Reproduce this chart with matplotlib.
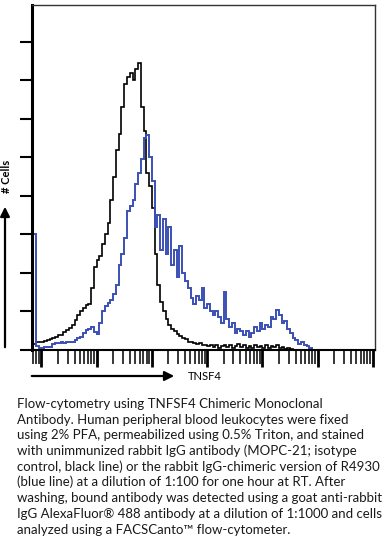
import numpy as np
import matplotlib.pyplot as plt
from matplotlib.ticker import LogLocator, NullFormatter

# Histogram bins: log10 of TNSF4 intensity, lower edge and bin width (decades)
LOG_START = -0.15
LOG_STEP = 0.05

# Isotype control (black line), # cells per bin
isotype = [0.15, 0.2, 0.2, 0.22, 0.24, 0.26, 0.28, 0.3, 0.34, 0.38,
           0.4, 0.46, 0.52, 0.58, 0.66, 0.78, 0.9, 1.0, 1.1, 1.17,
           1.2, 1.6, 2.15, 2.35, 2.45, 2.75, 3.0, 3.3, 3.9, 4.5,
           5.2, 5.6, 6.3, 6.9, 7.1, 7.2, 7.0, 7.3, 7.45, 6.3,
           5.7, 4.6, 4.25, 3.7, 2.5, 1.7, 1.25, 1.0, 0.8, 0.65,
           0.55, 0.5, 0.42, 0.36, 0.3, 0.28, 0.22, 0.2, 0.18, 0.15,
           0.17, 0.12, 0.14, 0.1, 0.13, 0.08, 0.12, 0.06, 0.1, 0.14,
           0.08, 0.12, 0.05, 0.1, 0.16, 0.08, 0.12, 0.06, 0.1, 0.04,
           0.12, 0.07, 0.1, 0.05, 0.14, 0.06, 0.1, 0.08, 0.12, 0.04,
           0.08, 0.03, 0.05, 0.02]

# R4930 rabbit IgG-chimeric (blue line), # cells per bin
r4930 = [3.0, 0.1, 0.06, 0.06, 0.08, 0.07, 0.08, 0.16, 0.18, 0.18,
         0.2, 0.18, 0.2, 0.2, 0.22, 0.26, 0.3, 0.34, 0.45, 0.52,
         0.55, 0.6, 0.48, 0.42, 0.7, 1.0, 1.15, 1.22, 1.3, 1.45,
         1.7, 2.2, 2.5, 2.9, 3.6, 3.75, 3.9, 4.3, 4.6, 4.95,
         5.5, 5.58, 5.0, 4.4, 3.2, 3.5, 2.6, 3.4, 2.5, 3.2,
         2.2, 2.6, 1.9, 2.7, 2.0, 1.8, 1.6, 1.35, 1.2, 1.4,
         1.3, 1.6, 1.1, 1.2, 1.0, 0.9, 1.0, 0.85, 0.7, 1.5,
         0.8, 0.6, 0.7, 0.45, 0.55, 0.5, 0.4, 0.5, 0.35, 0.45,
         0.6, 0.5, 0.7, 0.55, 0.65, 0.6, 0.85, 0.8, 1.05, 0.9,
         0.7, 0.75, 0.55, 0.45, 0.3, 0.25, 0.15, 0.22, 0.12, 0.1,
         0.05]

caption = [
    "Flow-cytometry using TNFSF4 Chimeric Monoclonal",
    "Antibody. Human peripheral blood leukocytes were fixed",
    "using 2% PFA, permeabilized using 0.5% Triton, and stained",
    "with unimmunized rabbit IgG antibody (MOPC-21; isotype",
    "control, black line) or the rabbit IgG-chimeric version of R4930",
    "(blue line) at a dilution of 1:100 for one hour at RT. After",
    "washing, bound antibody was detected using a goat anti-rabbit",
    "IgG AlexaFluor\u00ae 488 antibody at a dilution of 1:1000 and cells",
    "analyzed using a FACSCanto\u2122 flow-cytometer.",
]

W, H = 387, 540


def edges_for(counts):
    return 10 ** (LOG_START + LOG_STEP * np.arange(len(counts) + 1))


def fx(px):
    return px / W


def fy(py):
    return 1 - py / H


fig = plt.figure(figsize=(W / 100, H / 100), dpi=100)
ax = fig.add_axes([fx(32), fy(350), (375 - 32) / W, (350 - 5) / H])

ax.stairs(isotype, edges_for(isotype), color="black", lw=1.2)
ax.stairs(r4930, edges_for(r4930), color="#3b4fb5", lw=1.4)

ax.set_xscale("log")
ax.set_xlim(10 ** -0.17, 10 ** 6.04)
ax.set_ylim(0, 8.96)

ax.xaxis.set_major_locator(LogLocator(base=10, numticks=20))
ax.xaxis.set_minor_locator(LogLocator(base=10, subs=np.arange(2, 10), numticks=20))
ax.xaxis.set_major_formatter(NullFormatter())
ax.xaxis.set_minor_formatter(NullFormatter())
ax.set_yticks(range(9))
ax.set_yticklabels([])

ax.tick_params(axis="x", which="major", direction="out", length=12, width=2, color="black")
ax.tick_params(axis="x", which="minor", direction="out", length=10, width=1.1, color="black")
ax.tick_params(axis="y", which="major", direction="out", length=9, width=1.5, color="black")

ax.spines["left"].set_linewidth(2.2)
ax.spines["bottom"].set_linewidth(1.5)
for s in ("top", "right"):
    ax.spines[s].set_linewidth(1.0)
    ax.spines[s].set_color("#333333")

# axis arrows and labels
ax.annotate("", xy=(fx(5), fy(204)), xytext=(fx(5), fy(350)),
            xycoords="figure fraction", textcoords="figure fraction",
            arrowprops=dict(arrowstyle="-|>", lw=1.6, color="black", mutation_scale=14))
ax.annotate("", xy=(fx(177), fy(376)), xytext=(fx(29), fy(376)),
            xycoords="figure fraction", textcoords="figure fraction",
            arrowprops=dict(arrowstyle="-|>", lw=1.6, color="black", mutation_scale=14))

fig.text(fx(6), fy(176), "# Cells", rotation=90, ha="center", va="center",
         fontsize=8, fontweight="bold", family=["Lato", "DejaVu Sans"])
fig.text(fx(188), fy(376), "TNSF4", ha="left", va="center",
         fontsize=8, family=["Lato", "DejaVu Sans"])

for k, line in enumerate(caption):
    fig.text(fx(17), fy(408 + 15.7 * k), line, ha="left", va="baseline",
             fontsize=9.5, color="#1a1a1a", family=["Lato", "DejaVu Sans"])

fig.savefig("out.png", dpi=100)
